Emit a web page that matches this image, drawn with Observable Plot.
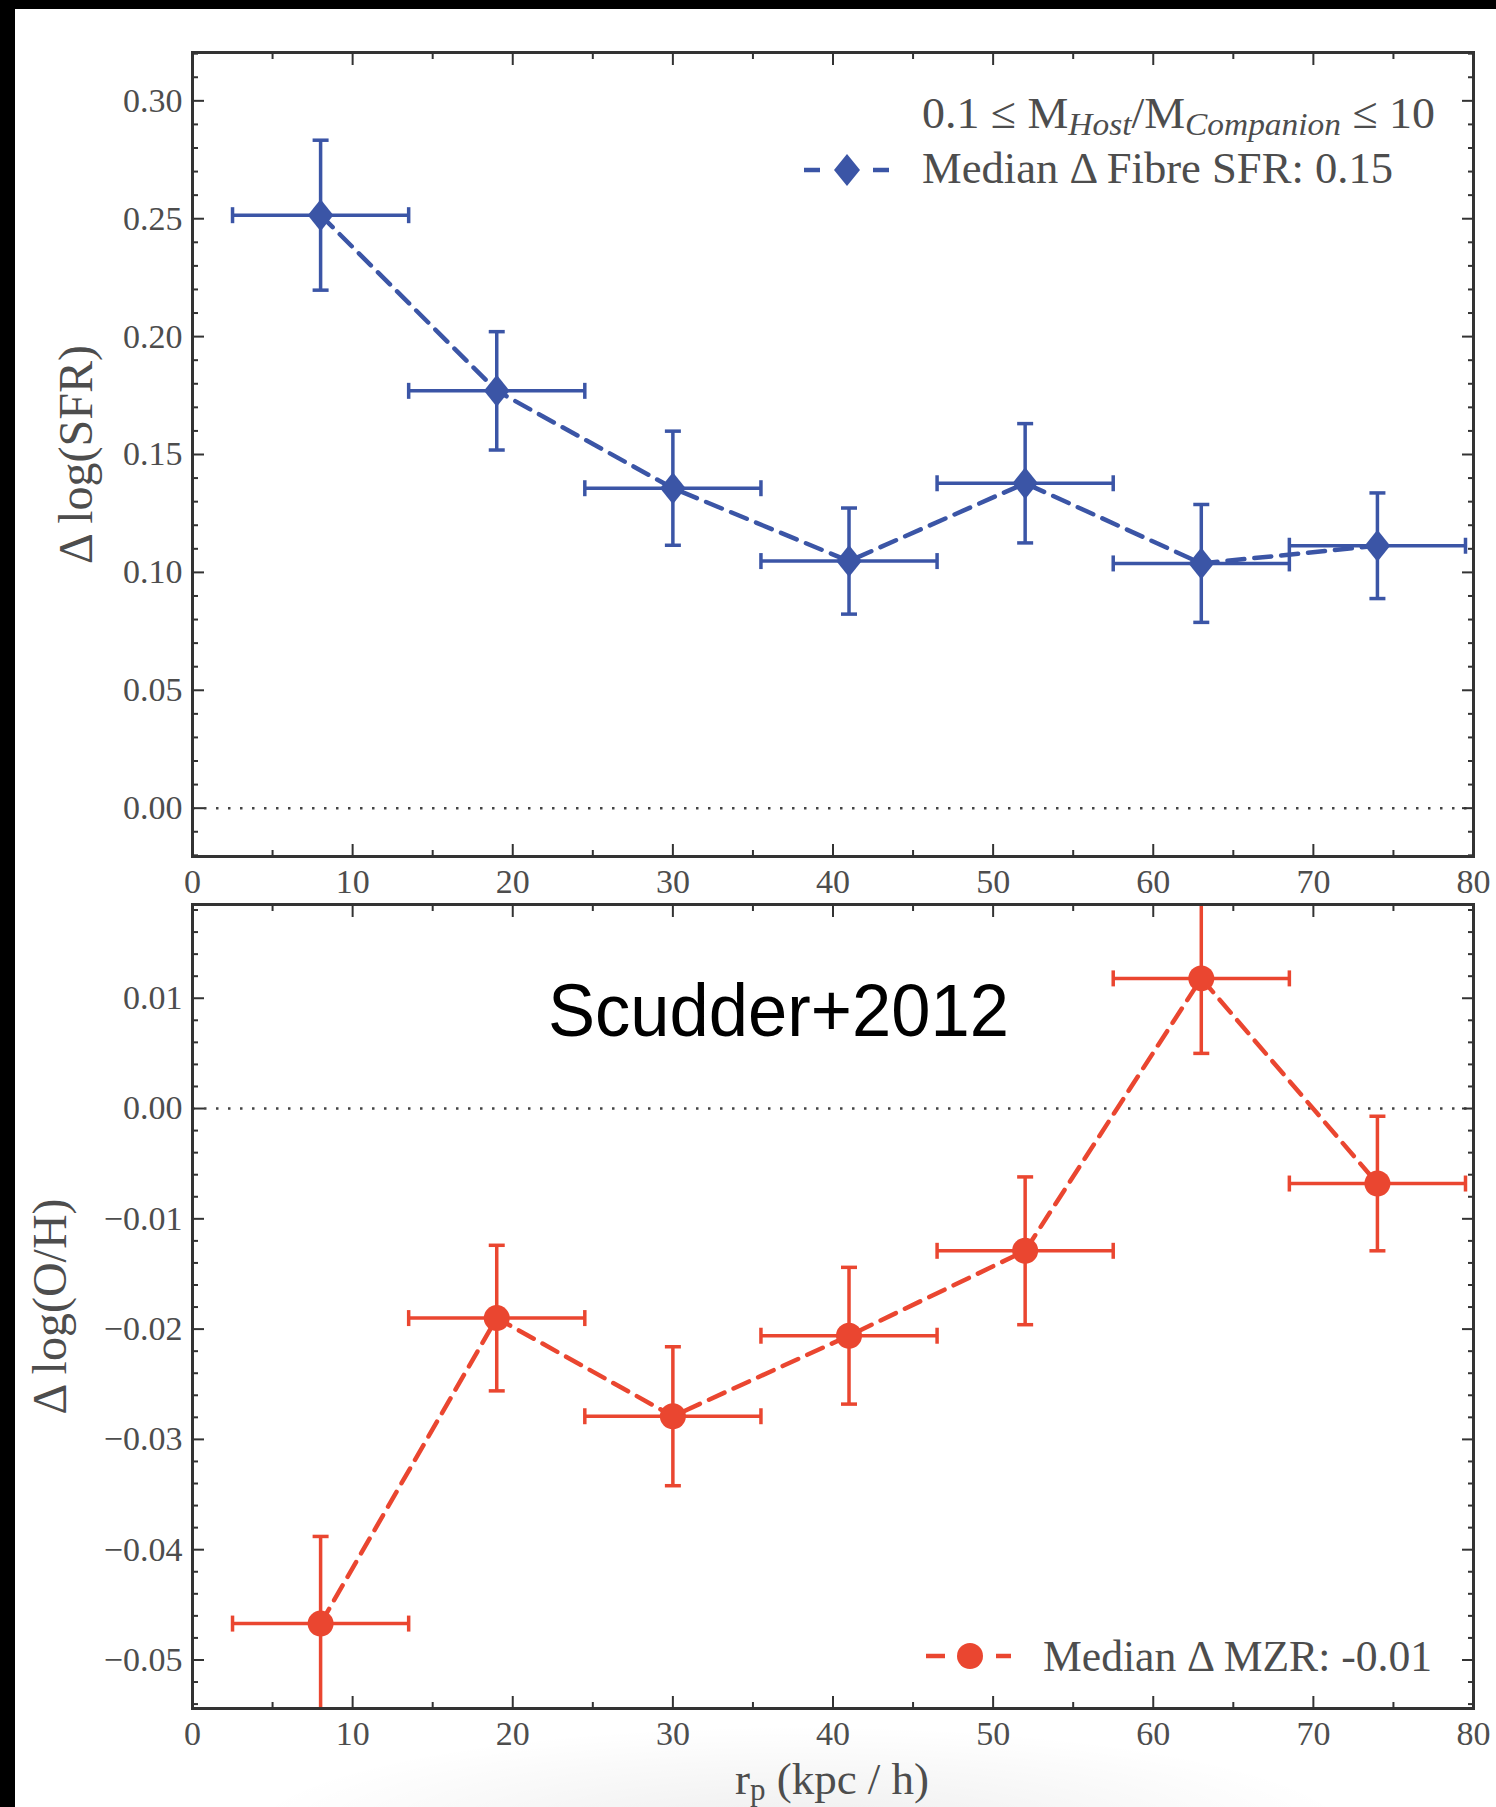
<!DOCTYPE html>
<html>
<head>
<meta charset="utf-8">
<script src="https://cdn.jsdelivr.net/npm/d3@7"></script>
<script src="https://cdn.jsdelivr.net/npm/@observablehq/plot@0.6"></script>
<style>
  html, body { margin: 0; padding: 0; background: #000; }
  #fig { position: relative; width: 1496px; height: 1807px; overflow: hidden; background: #000; }
  #sheet { position: absolute; left: 15px; top: 9px; right: 0; bottom: 0; background: #fff; }
  .layer { position: absolute; left: 0; }
  #notes { position: absolute; left: 0; top: 0; pointer-events: none; }
</style>
</head>
<body>
<div id="fig">
  <div id="sheet"></div>
  <svg id="haze" class="layer" style="top:0" width="1496" height="1807">
    <defs>
      <radialGradient id="shade" cx="0.5" cy="0.5" r="0.5">
        <stop offset="0" stop-color="#000" stop-opacity="0.07"/>
        <stop offset="1" stop-color="#000" stop-opacity="0"/>
      </radialGradient>
    </defs>
    <ellipse cx="800" cy="1835" rx="560" ry="110" fill="url(#shade)"/>
  </svg>
  <div id="top" class="layer" style="top:0"></div>
  <div id="bottom" class="layer" style="top:860px"></div>
  <svg id="notes" width="1496" height="1807" font-family="'Liberation Serif', serif" fill="#4d4d4d">
    <!-- upper panel legend -->
    <text x="922" y="128" font-size="44" textLength="513" lengthAdjust="spacingAndGlyphs">0.1 ≤ M<tspan font-style="italic" font-size="32" dy="7">Host</tspan><tspan dy="-7">/M</tspan><tspan font-style="italic" font-size="32" dy="7">Companion</tspan><tspan dy="-7"> ≤ 10</tspan></text>
    <g stroke="#3b55a6" stroke-width="4.5">
      <line x1="804" x2="820" y1="170" y2="170"/>
      <line x1="873" x2="889" y1="170" y2="170"/>
    </g>
    <path d="M847,154 L860,170 L847,186 L834,170 Z" fill="#3b55a6"/>
    <text x="922" y="183" font-size="44" textLength="471" lengthAdjust="spacingAndGlyphs">Median Δ Fibre SFR: 0.15</text>
    <!-- lower panel legend -->
    <g stroke="#ea4630" stroke-width="4.5">
      <line x1="926" x2="945" y1="1656" y2="1656"/>
      <line x1="996" x2="1011" y1="1656" y2="1656"/>
    </g>
    <circle cx="970" cy="1656" r="13" fill="#ea4630"/>
    <text x="1043" y="1671" font-size="44" textLength="389" lengthAdjust="spacingAndGlyphs">Median Δ MZR: -0.01</text>
    <!-- study tag -->
    <text x="548" y="1036" font-family="'Liberation Sans', Arial, sans-serif" font-size="74" fill="#000" textLength="461" lengthAdjust="spacingAndGlyphs">Scudder+2012</text>
    <!-- shared x-axis title -->
    <text x="832" y="1794" font-size="45" text-anchor="middle">r<tspan font-size="31" dy="6">p</tspan><tspan dy="-6"> (kpc / h)</tspan></text>
  </svg>
</div>
<script>
// Projected separation bins (kpc / h): centres and half-width
const rp = [8, 19, 30, 41, 52, 63, 74];
const rpHalfWidth = 5.5;

// Offset in fibre star-formation rate, with 1-sigma errors
const sfrOffset = [0.2515, 0.1770, 0.1357, 0.1048, 0.1378, 0.1038, 0.1113];
const sfrError  = [0.0318, 0.0251, 0.0242, 0.0225, 0.0253, 0.0250, 0.0224];

// Offset in gas-phase metallicity from the mass–metallicity relation
const ohOffset = [-0.0467, -0.0190, -0.0279, -0.0206, -0.0129, 0.0118, -0.0068];
const ohError  = [0.0079, 0.0066, 0.0063, 0.0062, 0.0067, 0.0068, 0.0061];

// Tick values
const xTicks   = [0, 10, 20, 30, 40, 50, 60, 70, 80];
const sfrTicks = [0.00, 0.05, 0.10, 0.15, 0.20, 0.25, 0.30];
const ohTicks  = [-0.05, -0.04, -0.03, -0.02, -0.01, 0.00, 0.01];

const blue = "#3b55a6";
const red = "#ea4630";

const xMinor = d3.range(5, 80, 10);
const sfrMinor = d3.range(-2, 33).map(i => i / 100).filter(v => Math.round(v * 100) % 5 !== 0);
const ohMinor = d3.range(-27, 10).map(i => i / 500).filter(v => Math.round(v * 500) % 5 !== 0);

const toRows = (v, e) => rp.map((r, i) => ({r, v: v[i], e: e[i], w: rpHalfWidth}));

// Marker shapes
const capH = {draw(ctx, size) { const r = Math.sqrt(size / Math.PI); ctx.moveTo(-r, 0); ctx.lineTo(r, 0); }};
const capV = {draw(ctx, size) { const r = Math.sqrt(size / Math.PI); ctx.moveTo(0, -r); ctx.lineTo(0, r); }};
const thinDiamond = {draw(ctx, size) {
  const r = Math.sqrt(size / Math.PI);
  ctx.moveTo(0, -r); ctx.lineTo(0.8 * r, 0); ctx.lineTo(0, r); ctx.lineTo(-0.8 * r, 0); ctx.closePath();
}};

const fmtPlain = d => d.toFixed(2);
const fmtSigned = d => (d < -1e-9 ? "\u2212" : "") + Math.abs(d).toFixed(2);

function panel({rows, yDomain, yMajor, yMinor, yFormat, yLabel, labelOffset, color, symbol, r, height, marginTop, marginBottom}) {
  const tick = {stroke: "#333", strokeWidth: 2, fill: "none"};
  const err = {stroke: color, strokeWidth: 3.5, clip: true};
  return Plot.plot({
    width: 1496,
    height,
    marginLeft: 192,
    marginRight: 23,
    marginTop,
    marginBottom,
    x: {domain: [0, 80]},
    y: {domain: yDomain},
    style: {background: "transparent", fontFamily: "'Liberation Serif', serif", fontSize: "34px", color: "#4d4d4d", overflow: "visible"},
    marks: [
      Plot.ruleY([0], {stroke: "#444", strokeWidth: 2.5, strokeDasharray: "2.5,9.5"}),
      Plot.line(rows, {x: "r", y: "v", stroke: color, strokeWidth: 4.5, strokeDasharray: "17,10", clip: true}),
      Plot.ruleX(rows, {x: "r", y1: d => d.v - d.e, y2: d => d.v + d.e, ...err}),
      Plot.ruleY(rows, {y: "v", x1: d => d.r - d.w, x2: d => d.r + d.w, ...err}),
      Plot.dot(rows, {x: "r", y: d => d.v - d.e, symbol: capH, r: 8, ...err}),
      Plot.dot(rows, {x: "r", y: d => d.v + d.e, symbol: capH, r: 8, ...err}),
      Plot.dot(rows, {x: d => d.r - d.w, y: "v", symbol: capV, r: 8, ...err}),
      Plot.dot(rows, {x: d => d.r + d.w, y: "v", symbol: capV, r: 8, ...err}),
      Plot.dot(rows, {x: "r", y: "v", symbol, r, fill: color, stroke: "none", clip: true}),
      Plot.frame({stroke: "#333", strokeWidth: 3}),
      // inward ticks on all four sides
      Plot.axisX(xTicks, {anchor: "bottom", ...tick, tickSize: 12, dy: -12}),
      Plot.axisX(xMinor, {anchor: "bottom", ...tick, tickSize: 6, dy: -6}),
      Plot.axisX(xTicks, {anchor: "top", ...tick, tickSize: 12, dy: 12}),
      Plot.axisX(xMinor, {anchor: "top", ...tick, tickSize: 6, dy: 6}),
      Plot.axisY(yMajor, {anchor: "left", ...tick, tickSize: 12, dx: 12}),
      Plot.axisY(yMinor, {anchor: "left", ...tick, tickSize: 6, dx: 6}),
      Plot.axisY(yMajor, {anchor: "right", ...tick, tickSize: 12, dx: -12}),
      Plot.axisY(yMinor, {anchor: "right", ...tick, tickSize: 6, dx: -6}),
      // tick labels
      Plot.axisX(xTicks, {anchor: "bottom", tickSize: 0, tickPadding: 12, tickFormat: d => String(d), label: null}),
      Plot.axisY(yMajor, {anchor: "left", tickSize: 0, tickPadding: 10, tickFormat: yFormat, label: null}),
      // axis title
      Plot.axisY(yMajor, {anchor: "left", tickSize: 0, tickFormat: () => "", label: yLabel, labelAnchor: "center", labelArrow: "none", labelOffset, fontSize: 48})
    ]
  });
}

document.getElementById("top").append(panel({
  rows: toRows(sfrOffset, sfrError),
  yDomain: [-0.0205, 0.3205],
  yMajor: sfrTicks,
  yMinor: sfrMinor,
  yFormat: fmtPlain,
  yLabel: "Δ log(SFR)",
  labelOffset: 135,
  color: blue,
  symbol: thinDiamond,
  r: 16,
  height: 900,
  marginTop: 52,
  marginBottom: 44
}));

document.getElementById("bottom").append(panel({
  rows: toRows(ohOffset, ohError),
  yDomain: [-0.0544, 0.0185],
  yMajor: ohTicks,
  yMinor: ohMinor,
  yFormat: fmtSigned,
  yLabel: "Δ log(O/H)",
  labelOffset: 161,
  color: red,
  symbol: "circle",
  r: 13,
  height: 947,
  marginTop: 44,
  marginBottom: 99
}));
</script>
</body>
</html>
